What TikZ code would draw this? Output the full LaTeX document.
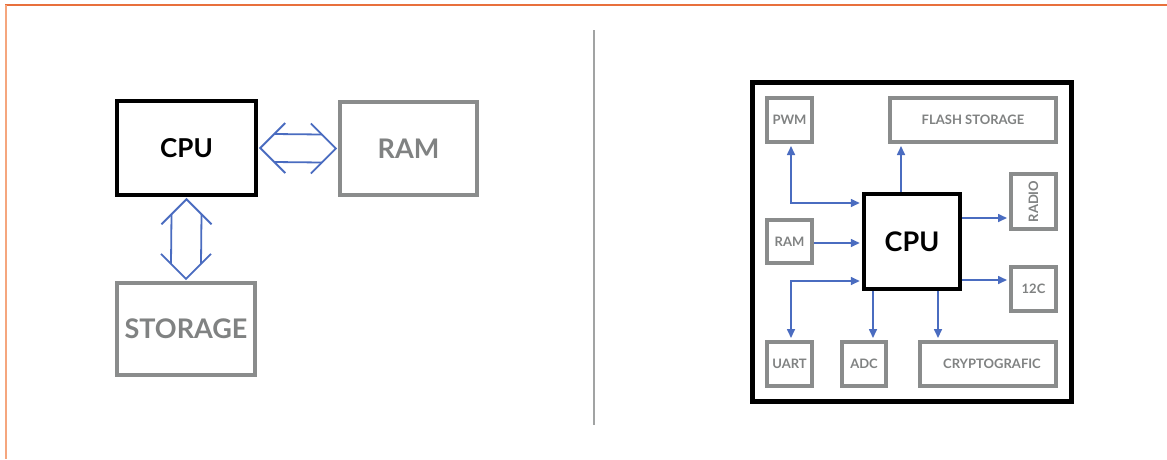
\documentclass[tikz,border=0pt]{standalone}
\usepackage{fontspec}
\setmainfont{Lato}
\usetikzlibrary{arrows.meta,calc}
\definecolor{bblue}{HTML}{4A6CC0}
\definecolor{bgray}{HTML}{8A8C8C}
\definecolor{tgray}{HTML}{808282}
\definecolor{orng}{HTML}{E8703C}
\definecolor{lorng}{HTML}{F5A67E}
\tikzset{
  bigbox/.style={draw=black, line width=4.5pt, inner sep=0pt, font=\bfseries\fontsize{26}{26}\selectfont, text=black},
  graybig/.style={draw=bgray, line width=4.2pt, inner sep=0pt, font=\bfseries\fontsize{27}{27}\selectfont, text=tgray},
  smallbox/.style={draw=bgray, line width=4pt, inner sep=0pt, font=\bfseries\fontsize{13}{13}\selectfont, text=tgray},
  cpubox/.style={draw=black, line width=4.5pt, inner sep=0pt, font=\bfseries\fontsize{27}{27}\selectfont, text=black},
  arr/.style={draw=bblue, line width=1.6pt, -{Triangle[length=9pt,width=8pt]}, shorten >=2pt},
  darr/.style={draw=bblue, line width=1.6pt, {Triangle[length=9pt,width=8pt]}-{Triangle[length=9pt,width=8pt]}, shorten >=2pt},
  dbl/.style={draw=bblue, line width=1.8pt}
}
\begin{document}
\begin{tikzpicture}[x=1pt,y=-1pt]
\useasboundingbox (0,0) rectangle (1167,459);
\fill[white] (0,0) rectangle (1167,459);
% frame
\draw[orng, line width=2pt] (5,5) -- (1167,5);
\draw[lorng, line width=1.6pt] (6,5) -- (6,459);
% divider
\draw[bgray!80, line width=1.4pt] (594,30) -- (594,425);

% left diagram
\node[bigbox, minimum width=139pt, minimum height=94pt] (cpuL) at (186.5,148) {CPU};
\node[graybig, minimum width=137pt, minimum height=93pt] (ramL) at (408.5,148.5) {RAM};
\node[graybig, minimum width=138pt, minimum height=92pt] (stoL) at (186,329) {STORAGE};

% horizontal double arrow
\coordinate (hl) at ([xshift=2pt]cpuL.east);
\coordinate (hr) at ([xshift=-2pt]ramL.west);
\draw[dbl] ($(hl)+(25,-25)$) -- (hl) -- ($(hl)+(25,25)$);
\draw[dbl] ($(hr)+(-25,-25)$) -- (hr) -- ($(hr)+(-25,25)$);
\draw[dbl] ($(hl)+(14,-14)$) -- ($(hr)+(-14,-14)$);
\draw[dbl] ($(hl)+(14,14)$) -- ($(hr)+(-14,14)$);

% vertical double arrow
\coordinate (vt) at ([yshift=-2pt]cpuL.south);
\coordinate (vb) at ([yshift=2pt]stoL.north);
\draw[dbl] ($(vt)+(-25,25)$) -- (vt) -- ($(vt)+(25,25)$);
\draw[dbl] ($(vb)+(-25,-25)$) -- (vb) -- ($(vb)+(25,-25)$);
\draw[dbl] ($(vt)+(-15,15)$) -- ($(vb)+(-15,-15)$);
\draw[dbl] ($(vt)+(15,15)$) -- ($(vb)+(15,-15)$);

% right diagram
\node[draw=black, line width=5pt, minimum width=319pt, minimum height=319pt, inner sep=0pt] (chip) at (912,242) {};
\node[cpubox, minimum width=96pt, minimum height=95pt] (cpuR) at (912,241.5) {CPU};
\node[smallbox, minimum width=45pt, minimum height=44pt] (pwm) at (789.5,120) {PWM};
\node[smallbox, minimum width=166pt, minimum height=44pt] (flash) at (973,120) {FLASH STORAGE};
\node[smallbox, minimum width=45pt, minimum height=55pt] (radio) at (1033.5,201.5) {\rotatebox{90}{RADIO}};
\node[smallbox, minimum width=45pt, minimum height=43pt] (ramR) at (789.5,241.5) {RAM};
\node[smallbox, minimum width=45pt, minimum height=44pt] (i2c) at (1033.5,289) {12C};
\node[smallbox, minimum width=45pt, minimum height=44pt] (uart) at (789.5,364) {UART};
\node[smallbox, minimum width=44pt, minimum height=44pt] (adc) at (864,364) {ADC};
\node[smallbox, minimum width=136pt, minimum height=44pt] (crypto) at (988,364) {\hspace*{8pt}CRYPTOGRAFIC};

% connectors
\draw[darr, shorten <=2pt] (pwm.south) ++(1.5,0) coordinate (pwmb) -- (pwmb |- 0,203) -- ([yshift=38.5pt]cpuR.west);
\draw[arr] ([xshift=-11pt]cpuR.north) -- ([xshift=-11pt]cpuR.north |- flash.south);
\draw[arr] ([yshift=23.5pt]cpuR.east) -- ([yshift=23.5pt]cpuR.east -| radio.west);
\draw[arr] ([yshift=-1.5pt]ramR.east) -- ([yshift=-1.5pt]cpuR.west |- ramR.east);
\draw[darr, shorten <=2pt] ([yshift=-39.5pt]cpuR.west) -| ([xshift=1.5pt]uart.north);
\draw[arr] ([yshift=-38.5pt]cpuR.east) -- ([yshift=-38.5pt]cpuR.east -| i2c.west);
\draw[arr] ([xshift=-39pt]cpuR.south) -- ([xshift=-39pt]cpuR.south |- adc.north);
\draw[arr] ([xshift=26pt]cpuR.south) -- ([xshift=26pt]cpuR.south |- crypto.north);
\end{tikzpicture}
\end{document}
